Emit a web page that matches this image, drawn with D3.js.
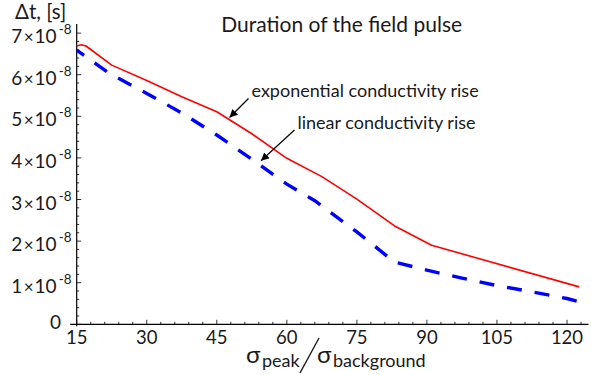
<!DOCTYPE html>
<html>
<head>
<meta charset="utf-8">
<script src="https://cdn.jsdelivr.net/npm/d3@7"></script>
<style>
  html, body { margin: 0; padding: 0; background: #fff; }
  svg { display: block; font-family: Lato, "Open Sans", sans-serif; }
</style>
</head>
<body>
<svg id="chart" width="591" height="375"></svg>
<script>
// Pulse duration vs. conductivity ratio for two conductivity-rise models
const expRatio = [15, 16, 17, 22.5, 30, 37.5, 45, 52.5, 60, 67.5, 75, 83, 91, 122.6];
const expDuration = [6.69e-8, 6.72e-8, 6.69e-8, 6.23e-8, 5.86e-8, 5.47e-8, 5.11e-8, 4.58e-8,
                     3.99e-8, 3.55e-8, 3.01e-8, 2.37e-8, 1.90e-8, 0.90e-8];
const linRatio = [15, 22, 30, 37.5, 45, 52.5, 60, 66, 75, 83, 90, 97.5, 105, 112.5, 120, 123.4];
const linDuration = [6.59e-8, 6.03e-8, 5.55e-8, 5.08e-8, 4.55e-8, 3.97e-8, 3.37e-8, 2.97e-8,
                     2.22e-8, 1.50e-8, 1.30e-8, 1.11e-8, 0.93e-8, 0.78e-8, 0.62e-8, 0.52e-8];
const xTicks = [15, 30, 45, 60, 75, 90, 105, 120];
const yTickMantissas = [0, 1, 2, 3, 4, 5, 6, 7];
const yTickExponent = -8;
const titleText = "Duration of the field pulse";
const expLabel = "exponential conductivity rise";
const linLabel = "linear conductivity rise";

const svg = d3.select("#chart");

const x = d3.scaleLinear().domain([15, 120]).range([76.7, 567]);
const y = d3.scaleLinear().domain([0, 7e-8]).range([324.3, 33.1]);

// axes
const axisG = svg.append("g").attr("stroke", "#000");
axisG.append("line")
  .attr("x1", x(13.6)).attr("x2", x(124.6))
  .attr("y1", y(0)).attr("y2", y(0)).attr("stroke-width", 1.2);
axisG.append("line")
  .attr("x1", x(15)).attr("x2", x(15))
  .attr("y1", y(7.22e-8)).attr("y2", y(0) + 2).attr("stroke-width", 1.2);

// x ticks (major every 15, minor every 3), pointing into the plot
const xMinor = d3.range(15, 124.6, 3);
axisG.selectAll(".xt").data(xMinor).join("line")
  .attr("x1", d => x(d)).attr("x2", d => x(d))
  .attr("y1", y(0)).attr("y2", d => y(0) - ((d - 15) % 15 === 0 ? 4.5 : 2.5))
  .attr("stroke-width", 0.8);

// y ticks (major every 1e-8, minor every 0.2e-8)
const yMinor = d3.range(0, 36).map(i => i * 0.2e-8);
axisG.selectAll(".yt").data(yMinor).join("line")
  .attr("x1", x(15)).attr("x2", (d, i) => x(15) + (i % 5 === 0 ? 4.5 : 2.5))
  .attr("y1", d => y(d)).attr("y2", d => y(d))
  .attr("stroke-width", 0.8);

// x tick labels
svg.selectAll(".xl").data(xTicks).join("text")
  .attr("x", d => x(d)).attr("y", y(0) + 20)
  .attr("text-anchor", "middle")
  .attr("font-size", 18.5).attr("fill", "#1a1a1a")
  .text(d => d);

// y tick labels in scientific notation
yTickMantissas.forEach(m => {
  const val = m * Math.pow(10, yTickExponent);
  const t = svg.append("text")
    .attr("text-anchor", "end").attr("fill", "#1a1a1a")
    .attr("font-size", 19);
  if (m === 0) {
    t.attr("x", 61).attr("y", y(val) + 5).text("0");
  } else {
    t.attr("x", 71.5).attr("y", y(val) + 10);
    t.append("tspan").text(m);
    t.append("tspan").attr("font-size", 17).attr("dx", 1.5).text("\u00d7");
    t.append("tspan").attr("dx", 1).text("10");
    t.append("tspan").attr("font-size", 13.5).attr("dx", 2).attr("dy", -9).text(yTickExponent);
  }
});

// axis titles
svg.append("text").attr("x", 15).attr("y", 19)
  .attr("font-size", 20.5).attr("fill", "#1a1a1a")
  .text("\u0394t, [s]");

const xl = svg.append("g").attr("fill", "#1a1a1a");
xl.append("text").attr("x", 246).attr("y", 363).attr("font-size", 24).text("\u03c3");
xl.append("text").attr("x", 262).attr("y", 367).attr("font-size", 18).text("peak");
xl.append("line").attr("x1", 300).attr("y1", 373).attr("x2", 319).attr("y2", 338)
  .attr("stroke", "#1a1a1a").attr("stroke-width", 1.4);
xl.append("text").attr("x", 317).attr("y", 363).attr("font-size", 24).text("\u03c3");
xl.append("text").attr("x", 333).attr("y", 367).attr("font-size", 18).text("background");

// title
svg.append("text").attr("x", 341.7).attr("y", 31.5)
  .attr("text-anchor", "middle").attr("font-size", 21).attr("fill", "#1a1a1a")
  .text(titleText);

// curves
const line = d3.line().x(d => x(d[0])).y(d => y(d[1]));
svg.append("path")
  .datum(d3.zip(expRatio, expDuration))
  .attr("d", line).attr("fill", "none")
  .attr("stroke", "#ff0000").attr("stroke-width", 1.6)
  .attr("stroke-linejoin", "round");
svg.append("path")
  .datum(d3.zip(linRatio, linDuration))
  .attr("d", line).attr("fill", "none")
  .attr("stroke", "#0000ff").attr("stroke-width", 3.4)
  .attr("stroke-dasharray", "15 13").attr("stroke-dashoffset", 6);

// annotations with arrows
const defs = svg.append("defs");
defs.append("marker").attr("id", "ah")
  .attr("viewBox", "0 0 10 10").attr("refX", 10).attr("refY", 5)
  .attr("markerWidth", 8).attr("markerHeight", 8)
  .attr("markerUnits", "userSpaceOnUse").attr("orient", "auto")
  .append("path").attr("d", "M0,0 L10,5 L0,10 Z").attr("fill", "#000");

svg.append("line").attr("x1", 248.5).attr("y1", 98.5).attr("x2", 229.5).attr("y2", 117.5)
  .attr("stroke", "#000").attr("stroke-width", 1.2).attr("marker-end", "url(#ah)");
svg.append("line").attr("x1", 294.5).attr("y1", 130).attr("x2", 261).attr("y2", 160.7)
  .attr("stroke", "#000").attr("stroke-width", 1.2).attr("marker-end", "url(#ah)");

svg.append("text").attr("x", 251.5).attr("y", 97).attr("font-size", 18).attr("fill", "#1a1a1a")
  .text(expLabel);
svg.append("text").attr("x", 297.5).attr("y", 128.5).attr("font-size", 18).attr("fill", "#1a1a1a")
  .text(linLabel);
</script>
</body>
</html>
